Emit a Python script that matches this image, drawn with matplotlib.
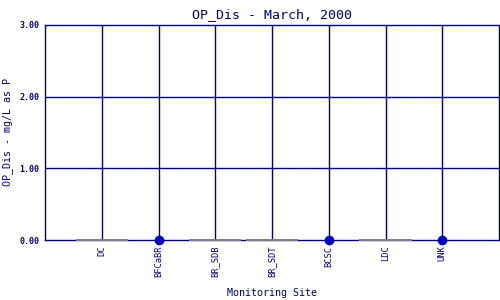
import numpy as np
import matplotlib
matplotlib.use("Agg")
import matplotlib.pyplot as plt

# --- datos ---
sites = ["DC", "BFCaBR", "BR_SDB", "BR_SDT", "BCSC", "LDC", "UNK"]
values = [np.nan, 0.0, np.nan, np.nan, 0.0, np.nan, 0.0]
y_ticks = [0.0, 1.0, 2.0, 3.0]

NAVY = "#000080"
MARK = "#0000c8"
GRAY = "#808080"
FONT = "DejaVu Sans Mono"

fig = plt.figure(figsize=(5, 3), dpi=100)
ax = fig.add_axes([0.09, 0.2, 0.908, 0.7167])

x = np.arange(len(sites))
ax.set_xlim(-1, len(sites))
ax.set_ylim(0, 3)

# rejilla
for xi in x:
    ax.axvline(xi, color=NAVY, lw=1.0, zorder=1)
for yv in y_ticks[1:-1]:
    ax.axhline(yv, color=NAVY, lw=1.0, zorder=1)

# sitios sin datos: tramo gris en cero
for xi, v in zip(x, values):
    if np.isnan(v):
        ax.hlines(0, xi - 0.46, xi + 0.46, color=GRAY, lw=1.4, zorder=3,
                  clip_on=False)

ax.plot(x, values, "o", color=MARK, ms=6, zorder=4, clip_on=False)

for s in ax.spines.values():
    s.set_color(NAVY)
    s.set_linewidth(1.0)

ax.set_xticks(x)
ax.set_xticklabels(sites, rotation=90, fontsize=6.3, family=FONT, color=NAVY)
ax.set_yticks(y_ticks)
ax.set_yticklabels([f"{v:.2f}" for v in y_ticks], fontsize=6, family=FONT,
                   color=NAVY, fontweight="bold")
ax.tick_params(length=0, pad=4)

ax.set_title("OP_Dis - March, 2000", fontsize=9.5, family=FONT, color=NAVY, pad=5)
ax.set_xlabel("Monitoring Site", fontsize=7.2, family=FONT, color=NAVY, labelpad=8)
ax.set_ylabel("OP_Dis - mg/L as P", fontsize=7.2, family=FONT, color=NAVY)
ax.yaxis.set_label_coords(-0.07, 0.5)

fig.savefig("out.png", dpi=100)
